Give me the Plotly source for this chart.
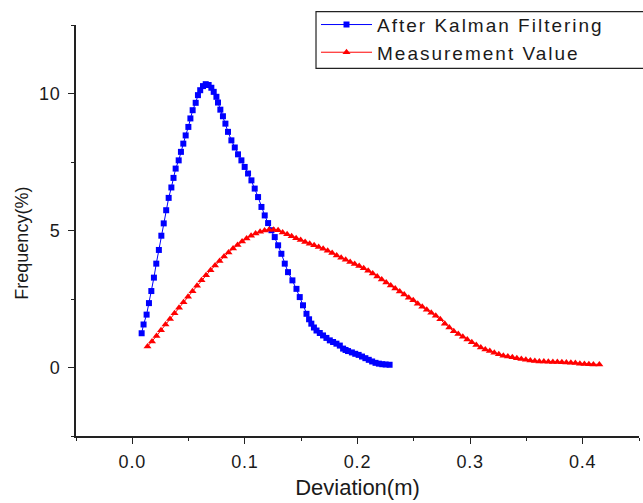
import plotly.graph_objects as go

# Deviation (m) and frequency (%) after Kalman filtering
kalman_x = [0.0083, 0.0100, 0.0127, 0.0148, 0.0169, 0.0192, 0.0213, 0.0236, 0.0258, 0.0279,
            0.0301, 0.0323, 0.0347, 0.0366, 0.0385, 0.0412, 0.0432, 0.0453, 0.0474, 0.0498,
            0.0516, 0.0536, 0.0563, 0.0583, 0.0603, 0.0628, 0.0652, 0.0678, 0.0702, 0.0723,
            0.0747, 0.0761, 0.0782, 0.0805, 0.0827, 0.0850, 0.0880, 0.0910, 0.0939, 0.0969,
            0.0998, 0.1028, 0.1058, 0.1087, 0.1117, 0.1147, 0.1176, 0.1206, 0.1236, 0.1265,
            0.1295, 0.1324, 0.1354, 0.1383, 0.1422, 0.1458, 0.1487, 0.1516, 0.1547, 0.1570,
            0.1590, 0.1613, 0.1636, 0.1665, 0.1694, 0.1724, 0.1754, 0.1783, 0.1813, 0.1843,
            0.1872, 0.1894, 0.1916, 0.1950, 0.1980, 0.2010, 0.2040, 0.2070, 0.2100, 0.2130,
            0.2160, 0.2190, 0.2220, 0.2250, 0.2285]
kalman_y = [1.25, 1.57, 1.93, 2.35, 2.79, 3.28, 3.79, 4.29, 4.81, 5.26,
            5.74, 6.19, 6.57, 6.92, 7.26, 7.56, 7.87, 8.17, 8.47, 8.78,
            9.09, 9.39, 9.66, 9.94, 10.12, 10.27, 10.34, 10.31, 10.21, 10.06,
            9.88, 9.67, 9.41, 9.17, 8.90, 8.60, 8.29, 8.03, 7.78, 7.56,
            7.32, 7.08, 6.83, 6.53, 6.22, 5.86, 5.55, 5.27, 5.01, 4.76,
            4.46, 4.15, 3.79, 3.48, 3.18, 2.87, 2.57, 2.27, 1.96, 1.76,
            1.60, 1.46, 1.35, 1.26, 1.17, 1.08, 0.99, 0.93, 0.87, 0.80,
            0.69, 0.64, 0.60, 0.55, 0.50, 0.46, 0.40, 0.34, 0.28, 0.22,
            0.17, 0.14, 0.12, 0.11, 0.10]

# Deviation (m) and frequency (%) of the raw measurements
measured_x = [0.0135, 0.0175, 0.0215, 0.0255, 0.0295, 0.0335, 0.0375, 0.0415, 0.0455, 0.0495,
              0.0535, 0.0575, 0.0615, 0.0655, 0.0695, 0.0735, 0.0775, 0.0815, 0.0855, 0.0895,
              0.0935, 0.0975, 0.1015, 0.1055, 0.1095, 0.1135, 0.1175, 0.1215, 0.1255, 0.1295,
              0.1335, 0.1375, 0.1415, 0.1455, 0.1495, 0.1535, 0.1575, 0.1615, 0.1655, 0.1695,
              0.1735, 0.1775, 0.1815, 0.1855, 0.1895, 0.1935, 0.1975, 0.2015, 0.2055, 0.2095,
              0.2135, 0.2175, 0.2215, 0.2255, 0.2295, 0.2335, 0.2375, 0.2415, 0.2455, 0.2495,
              0.2535, 0.2575, 0.2615, 0.2655, 0.2695, 0.2735, 0.2775, 0.2815, 0.2855, 0.2895,
              0.2935, 0.2975, 0.3015, 0.3055, 0.3095, 0.3135, 0.3175, 0.3215, 0.3255, 0.3295,
              0.3335, 0.3375, 0.3415, 0.3455, 0.3495, 0.3535, 0.3575, 0.3615, 0.3655, 0.3695,
              0.3735, 0.3775, 0.3815, 0.3855, 0.3895, 0.3935, 0.3975, 0.4015, 0.4055, 0.4095,
              0.4148]
measured_y = [0.77, 0.95, 1.15, 1.36, 1.57, 1.77, 1.98, 2.18, 2.38, 2.58,
              2.78, 2.98, 3.18, 3.37, 3.55, 3.72, 3.89, 4.05, 4.20, 4.34,
              4.47, 4.60, 4.71, 4.81, 4.89, 4.95, 5.00, 5.03, 5.03, 5.01,
              4.93, 4.86, 4.79, 4.72, 4.65, 4.58, 4.52, 4.46, 4.40, 4.33,
              4.26, 4.18, 4.09, 4.01, 3.93, 3.85, 3.78, 3.70, 3.62, 3.53,
              3.43, 3.32, 3.21, 3.10, 2.99, 2.88, 2.77, 2.66, 2.55, 2.45,
              2.33, 2.22, 2.11, 2.00, 1.89, 1.76, 1.60, 1.46, 1.32, 1.22,
              1.12, 1.02, 0.92, 0.82, 0.73, 0.66, 0.60, 0.54, 0.48, 0.43,
              0.40, 0.37, 0.34, 0.31, 0.28, 0.26, 0.24, 0.22, 0.22, 0.21,
              0.20, 0.20, 0.19, 0.18, 0.17, 0.16, 0.14, 0.13, 0.12, 0.11,
              0.11]

x_ticks = [0.0, 0.1, 0.2, 0.3, 0.4]
x_tick_text = ["0.0", "0.1", "0.2", "0.3", "0.4"]
y_ticks = [0, 5, 10]
y_tick_text = ["0", "5", "10"]

FONT = "Liberation Sans, Arial, sans-serif"
INK = "#1a1a1a"
AXIS = "#222222"


def wide(text, spacing):
    """Wrap a label so its glyphs are spread out a little."""
    return f"<span style='letter-spacing:{spacing}px'>{text}</span>"


fig = go.Figure()
fig.add_trace(go.Scatter(
    x=kalman_x, y=kalman_y, mode="lines+markers",
    name=wide("After Kalman Filtering", 2),
    line=dict(color="#0000ff", width=1),
    marker=dict(symbol="square", size=6, color="#0000ff"),
))
fig.add_trace(go.Scatter(
    x=measured_x, y=measured_y, mode="lines+markers",
    name=wide("Measurement Value", 2),
    line=dict(color="#ff0000", width=1),
    marker=dict(symbol="triangle-up", size=7, color="#ff0000"),
))

axis_common = dict(
    showline=True, linecolor=AXIS, linewidth=1.5, mirror=False,
    showgrid=False, zeroline=False,
    ticks="outside", ticklen=6, tickwidth=1.3, tickcolor=AXIS,
    tickfont=dict(family=FONT, size=18, color=INK),
)

fig.update_xaxes(
    range=[-0.05, 0.45], tickvals=x_ticks,
    ticktext=[wide(t, 0.8) for t in x_tick_text],
    ticklabelstandoff=3,
    minor=dict(dtick=0.05, tick0=0, ticks="outside", ticklen=3, tickcolor=AXIS),
    title=dict(text="Deviation(m)", font=dict(family=FONT, size=22, color=INK), standoff=8),
    **axis_common,
)
fig.update_yaxes(
    range=[-2.5, 12.5], tickvals=y_ticks,
    ticktext=[wide(t, 0.8) for t in y_tick_text],
    ticklabelstandoff=4,
    minor=dict(dtick=2.5, tick0=0, ticks="outside", ticklen=3, tickcolor=AXIS),
    **axis_common,
)

# Vertical axis title, sitting a little below the middle of the axis
fig.add_annotation(
    text="Frequency(%)", textangle=-90, showarrow=False,
    xref="paper", yref="paper", x=-0.0959, y=0.468,
    xanchor="center", yanchor="middle",
    font=dict(family=FONT, size=18, color=INK),
)

# Legend frame, running off the right edge of the figure
fig.add_shape(
    type="rect", xref="paper", yref="paper",
    x0=0.4263, x1=1.03, y0=0.8946, y1=1.0324,
    line=dict(color=AXIS, width=1.2), fillcolor="white", layer="above",
)

fig.update_layout(
    width=643, height=503,
    margin=dict(l=76, r=4, t=25, b=67),
    paper_bgcolor="white", plot_bgcolor="white",
    showlegend=True,
    legend=dict(
        x=0.4263, y=1.047, xanchor="left", yanchor="top",
        bgcolor="rgba(0,0,0,0)", borderwidth=0,
        font=dict(family=FONT, size=19, color=INK),
        itemwidth=51, tracegroupgap=0, itemsizing="trace",
    ),
)

fig.write_html("out.html")
